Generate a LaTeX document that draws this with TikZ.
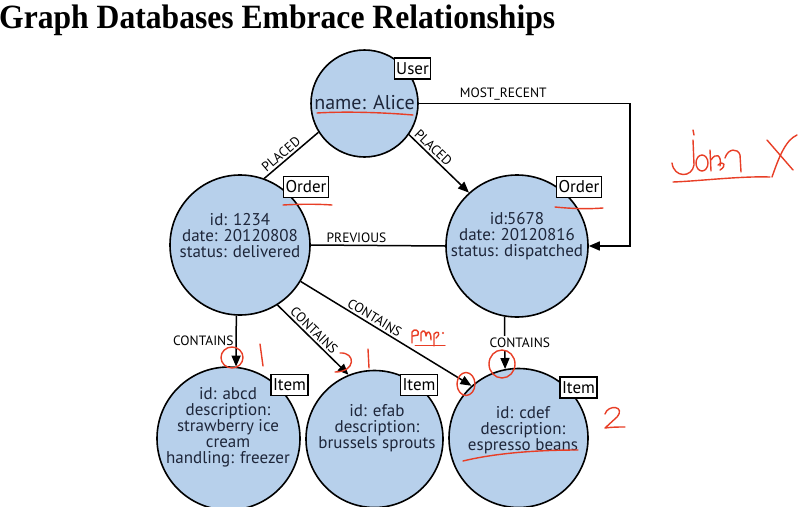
\documentclass[tikz,border=0pt]{standalone}
\usepackage{fontspec}
\setmainfont{Liberation Serif}
\setsansfont{PT Sans}
\usetikzlibrary{arrows.meta}
\definecolor{nodeblue}{RGB}{183,208,235}
\definecolor{ink}{RGB}{30,38,58}
\definecolor{penred}{RGB}{232,62,38}
\tikzset{
  entity/.style={circle, draw=black, line width=1.6pt, fill=nodeblue, inner sep=0pt},
  props/.style={font=\sffamily\fontsize{17}{16}\selectfont, text=ink, align=center, inner sep=0pt},
  tag/.style={draw=black, line width=1.2pt, fill=white, font=\sffamily\fontsize{17}{17}\selectfont, inner sep=2pt, minimum height=21pt, text=black},
  rel/.style={line width=1.5pt, draw=black},
  relarrow/.style={rel, -{Triangle[length=11pt,width=9pt]}},
  rlabel/.style={font=\sffamily\fontsize{13.5}{13.5}\selectfont, text=black, inner sep=2pt},
  scribble/.style={draw=penred, line width=1.4pt, line cap=round, line join=round},
}
\begin{document}
\begin{tikzpicture}[x=1pt, y=-1pt]
\useasboundingbox (0,0) rectangle (810,506);
\clip (0,0) rectangle (810,506);
\fill[white] (0,0) rectangle (810,506);

% title
\node[anchor=base west, inner sep=0pt, font=\bfseries\fontsize{34}{34}\selectfont, xscale=0.93] (title) at (-1,28) {Graph Databases Embrace Relationships};

% entities
\node[entity, minimum size=107pt] (user) at (364.5,103.5) {};
\node[entity, minimum size=140pt] (o1) at (240,245) {};
\node[entity, minimum size=142pt] (o2) at (517,246) {};
\node[entity, minimum size=143pt] (i1) at (228.5,438.5) {};
\node[entity, minimum size=137pt] (i2) at (374.5,439) {};
\node[entity, minimum size=139pt] (i3) at (518.5,438) {};

% relationships
\coordinate (mrturn) at (630,103.5);
\draw[rel] (o1.70) -- node[rlabel, sloped, above, pos=0.4] {PLACED} (user.212);
\draw[relarrow] (user.-35) -- node[rlabel, sloped, above, pos=0.32] {PLACED} (o2.132);
\draw[relarrow] (user.east) -- node[rlabel, above, pos=0.4] {MOST\_RECENT} (mrturn) |- (o2.east);
\draw[rel] (o1.east) -- node[rlabel, above, pos=0.34] {PREVIOUS} (o2.west);
\draw[relarrow] (o1.267) -- node[rlabel, left, pos=0.5] {CONTAINS} (i1.84);
\draw[relarrow] (o1.-58) -- node[rlabel, sloped, above, pos=0.44] {CONTAINS} (i2.112);
\draw[relarrow] (o1.-31) -- node[rlabel, sloped, above, pos=0.41] {CONTAINS} (i3.132);
\draw[relarrow] (o2.260) -- node[rlabel, fill=white, pos=0.5, xshift=15pt] {CONTAINS} (i3.101);

% properties
\node[props, font=\sffamily\fontsize{20}{20}\selectfont] (usert) at (364.5,103) {name: Alice};
\node[props] (o1t) at (240,236) {id: 1234\\date: 20120808\\status: delivered};
\node[props] (o2t) at (517,236) {id:5678\\date: 20120816\\status: dispatched};
\node[props] (i1t) at (228,427.5) {id: abcd\\description:\\strawberry ice\\cream\\handling: freezer};
\node[props] (i2t) at (377,428) {id: efab\\description:\\brussels sprouts};
\node[props] (i3t) at (523,430) {id: cdef\\description:\\espresso beans};

% labels
\node[tag] (usertag) at (412.5,68.5) {User};
\node[tag] (o1tag) at (306,187) {Order};
\node[tag] (o2tag) at (579,187) {Order};
\node[tag] (i1tag) at (289.5,385) {Item};
\node[tag] (i2tag) at (419,385) {Item};
\node[tag] (i3tag) at (578.5,387.5) {Item};

% red handwritten annotations
\draw[scribble] (317,113) .. controls (350,111) and (390,113) .. (413,115);
\draw[scribble] (283,205) .. controls (300,204) and (318,204) .. (332,205);
\draw[scribble] (555,207) .. controls (575,209) and (590,209) .. (603,208);
\draw[scribble] (463,461) .. controls (500,452) and (545,450) .. (578,450);
\draw[scribble] (232,357.5) ellipse [x radius=11, y radius=10.5];
\draw[scribble] (260,344) -- (263,366);
\draw[scribble] (340,353) .. controls (356,352) and (356,372) .. (335,372);
\draw[scribble] (368,349) -- (369,368);
\draw[scribble] (466,384) ellipse [x radius=9, y radius=11.5];
\draw[scribble] (502,364) ellipse [x radius=13, y radius=14];
\draw[scribble] (605,414) .. controls (608,404) and (626,406) .. (617,417) -- (605,428) .. controls (612,427) and (618,427) .. (625,427);
% scribble near CONTAINS
\draw[scribble] (412,343) -- (412,332) .. controls (414,328) and (420,330) .. (418,335) -- (413,336);
\draw[scribble] (421,341) -- (421,333) .. controls (423,329) and (426,331) .. (426,336) .. controls (427,330) and (431,330) .. (431,340);
\draw[scribble] (434,346) -- (434,334) .. controls (437,330) and (442,333) .. (436,338);
\fill[penred] (443,333) circle [radius=1.2];
\draw[scribble, line width=1pt] (415,345) -- (445,345);
% "john X"
\draw[scribble] (693,130) -- (694,135);
\draw[scribble] (693,140) -- (694,165) .. controls (692,178) and (674,178) .. (672,163);
\draw[scribble] (702,163) ellipse [x radius=6, y radius=8];
\draw[scribble] (710,150) -- (711,171);
\draw[scribble] (711,160) .. controls (716,152) and (722,155) .. (720,166);
\draw[scribble] (718,165) .. controls (724,160) and (727,166) .. (720,170);
\draw[scribble] (725,158) .. controls (728,148) and (738,148) .. (740,155) -- (741,172);
\draw[scribble] (673,182) .. controls (700,181) and (740,176) .. (770,177);
\draw[scribble] (767,140) -- (793,170);
\draw[scribble] (797,135) .. controls (785,140) and (778,160) .. (772,177);
\end{tikzpicture}
\end{document}
